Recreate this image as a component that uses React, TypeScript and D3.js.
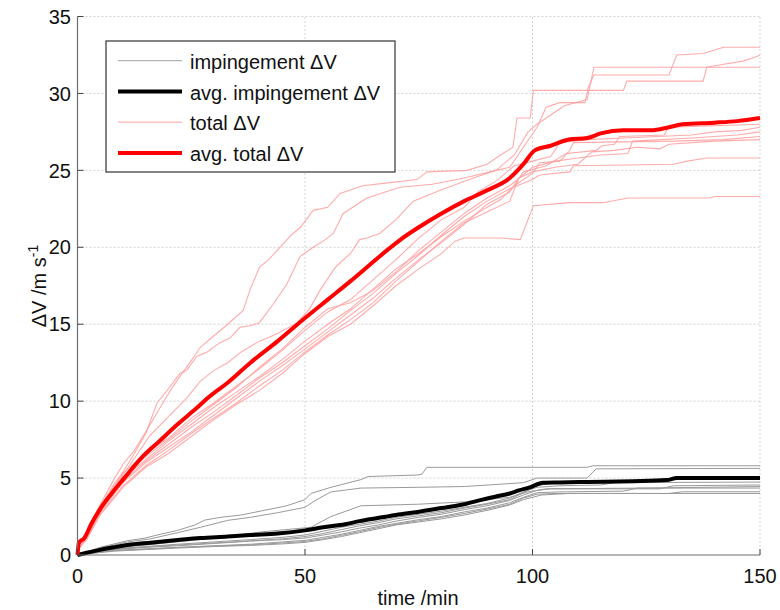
import React from "react";
import * as d3 from "d3";

type P = [number, number];

const X_TICKS = [0, 50, 100, 150];
const Y_TICKS = [0, 5, 10, 15, 20, 25, 30, 35];
const LEGEND_LABELS = ["impingement \u0394V", "avg. impingement \u0394V", "total \u0394V", "avg. total \u0394V"];

// total ΔV, individual runs
const totalA: P[] = [[0,0],[0.5,0.8],[2,1.5],[5,3.3],[8,4.9],[10,5.9],[12.5,6.8],[15.2,8.1],[17,9.0],[19.6,10.3],[22,11.4],[24.7,12.5],[27,13.5],[29.8,14.2],[33,15.0],[36.4,15.9],[38,17.3],[40,18.7],[42,19.2],[44.5,20.0],[47,20.8],[49,21.3],[51.8,22.4],[55,22.6],[57.7,23.5],[62.7,24.0],[68.7,24.2],[74.6,24.4],[76.8,24.9],[85.6,25.0],[90,25.4],[93,26.0],[95.7,26.5],[96.6,28.4],[99.5,28.4],[100.2,30.2],[112,30.2],[113.5,31.2],[130,31.2],[131.7,32.5],[137.5,32.6],[142,33.0],[150,33.0]];
const totalB: P[] = [[0,0],[0.5,0.7],[2,1.4],[5,3.1],[8,4.6],[10,5.4],[12.5,6.6],[15,7.9],[17.5,9.9],[20,10.8],[22.5,11.8],[24,12.0],[26.2,12.9],[28.5,13.2],[31.3,13.8],[33.5,14.1],[35.7,14.8],[38,14.9],[40,15.1],[43,16.3],[46,17.6],[48.9,19.4],[51.8,20.0],[54,20.4],[56.2,20.9],[58.4,22.2],[63.6,23.2],[70.9,23.9],[78,24.1],[85,24.5],[92,25.0],[95,25.2],[98,26.5],[101,27.8],[103,29.1],[106,29.4],[111.5,29.4],[112.2,30.2],[120,30.2],[120.7,30.8],[137.5,30.8],[138.3,31.7],[142,31.9],[146.3,32.1],[149.3,32.4],[150,32.5]];
const totalC: P[] = [[0,0],[0.5,0.7],[2,1.3],[5,3.0],[10,5.2],[13,6.5],[16,7.8],[20,9.0],[24,10.2],[27,11.3],[30,12.0],[33,12.5],[36,13.2],[40,13.9],[44,14.4],[48.3,15.1],[51,16.0],[53.3,17.2],[56.2,18.5],[57,18.8],[60,19.6],[62,20.5],[63.6,20.6],[66.4,20.9],[70,21.8],[73.8,23.0],[79.7,23.7],[87,24.5],[92,25.0],[96,26.0],[99,27.5],[101,28.0],[104,28.6],[107,29.2],[112,29.6],[113.5,31.7],[150,31.7]];
const totalD: P[] = [[0,0],[0.5,0.6],[2,1.3],[5,3.0],[10,5.0],[15,6.2],[20,7.4],[25,8.5],[30,9.6],[35,10.6],[40,11.6],[45,12.7],[50,13.9],[55,15.0],[60,16.0],[65,17.3],[70,18.6],[75,19.6],[80,20.7],[85,21.7],[90,22.6],[93,23.1],[96,24.0],[100,24.8],[101.6,25.5],[106,25.6],[107.6,26.1],[114,26.3],[115.3,26.6],[118,26.7],[119.2,27.2],[129,27.3],[129.8,27.8],[150,28.0]];
const totalE: P[] = [[0,0],[0.5,0.8],[2,1.4],[5,3.2],[10,5.3],[15,6.6],[20,7.6],[25,8.9],[30,9.9],[35,11.0],[40,12.1],[45,13.3],[50,14.6],[55,15.8],[60,16.6],[65,17.9],[70,19.2],[75,20.6],[80,21.8],[85,22.6],[88,23.6],[92,24.3],[96,25.3],[100,25.6],[104,25.9],[106,26.8],[112,27.0],[120,27.1],[135,27.3],[140,27.5],[146,27.6],[150,27.8]];
const totalF: P[] = [[0,0],[0.5,0.6],[2,1.2],[5,2.8],[10,4.7],[15,6.0],[20,7.0],[25,8.0],[30,9.1],[35,10.2],[40,11.3],[45,12.3],[50,13.4],[55,14.5],[60,15.6],[65,16.7],[70,18.0],[75,19.2],[80,20.3],[85,21.5],[90,22.8],[95,23.6],[98,24.9],[103,25.3],[108,26.2],[109,26.8],[131,26.9],[142,27.0],[150,27.2]];
const totalG: P[] = [[0,0],[0.5,0.5],[2,1.1],[5,2.7],[10,4.5],[15,5.8],[20,6.8],[25,7.9],[30,8.9],[35,9.9],[40,11.0],[45,12.0],[50,13.2],[55,14.3],[60,15.3],[65,16.4],[70,17.8],[75,19.1],[80,20.4],[85,21.6],[90,22.3],[95,23.0],[97,24.5],[100,24.9],[105,25.2],[110,25.4],[113,26.2],[118,26.3],[123,26.5],[128,26.4],[130,26.7],[140,26.9],[150,27.0]];
const totalH: P[] = [[0,0],[0.5,0.7],[2,1.3],[5,3.1],[10,5.1],[15,6.4],[20,7.5],[25,8.7],[30,9.8],[35,10.9],[40,12.2],[45,13.4],[50,14.8],[55,16.0],[60,16.4],[65,17.2],[70,18.4],[75,19.8],[80,21.0],[85,22.2],[90,23.2],[95,24.0],[100,25.2],[105,25.6],[110,25.8],[115,26.0],[121,26.1],[122,26.9],[135,27.1],[145,27.3],[150,27.5]];
const totalI: P[] = [[0,0],[0.5,0.6],[2,1.2],[5,2.9],[10,4.8],[15,6.1],[20,7.2],[25,8.3],[30,9.3],[35,10.4],[40,11.5],[45,12.5],[50,13.6],[55,14.7],[60,15.9],[65,17.0],[70,18.3],[75,19.5],[80,20.8],[85,22.0],[90,23.0],[95,23.8],[100,24.4],[101.6,24.7],[108.2,24.9],[109,25.3],[131,25.4],[134,25.6],[138.3,25.8],[150,25.8]];
const totalJ: P[] = [[0,0],[0.5,0.5],[2,1.0],[5,2.6],[10,4.4],[15,5.7],[20,6.6],[25,7.7],[30,8.8],[35,9.8],[40,10.7],[45,11.8],[50,13.1],[55,14.2],[60,15.0],[65,16.2],[70,17.5],[75,18.6],[80,19.6],[83,20.4],[85,20.6],[93,20.6],[97.3,20.5],[100.2,22.7],[108.2,22.9],[115.5,22.9],[121,23.2],[139,23.2],[140,23.3],[150,23.3]];

const avgTotal: P[] = [[0,0],[0.3,0.8],[1.5,1.1],[3,2.0],[5,3.0],[7.5,4.0],[10,4.9],[14,6.3],[18,7.4],[22,8.5],[26,9.5],[29,10.3],[33,11.2],[38,12.5],[44,13.9],[50,15.4],[55,16.6],[60,17.8],[64,18.8],[68,19.8],[71,20.5],[75,21.3],[80,22.2],[85,23.0],[90,23.7],[95,24.5],[98,25.4],[100.5,26.3],[104,26.6],[108,27.0],[112,27.1],[115,27.4],[120,27.6],[126,27.6],[130,27.8],[133,28.0],[140,28.1],[145,28.2],[150,28.4]];

// impingement ΔV, individual runs
const impG1: P[] = [[0,0],[5,0.5],[11,0.93],[14.8,1.1],[18.4,1.36],[22,1.6],[25.8,1.95],[28,2.27],[31.5,2.45],[36,2.6],[41,2.9],[46,3.2],[50,3.6],[51.3,4.0],[55.7,4.4],[62.3,4.9],[63.8,5.1],[74.8,5.2],[75.7,5.26],[76.8,5.7],[112,5.7],[113.3,5.8],[150,5.8]];
const impG2: P[] = [[0,0],[5,0.45],[11,0.85],[16,1.05],[22,1.45],[27,1.8],[33,2.25],[38,2.45],[44,2.75],[50,3.1],[52,3.5],[55.7,4.1],[62.3,4.35],[75,4.4],[85,4.45],[98,4.7],[101,5.0],[112,5.0],[114,5.6],[150,5.63]];
const impG3: P[] = [[0,0],[3,0.25],[10,0.5],[20,0.8],[30,1.1],[40.4,1.5],[51.3,1.8],[55.7,2.5],[62.3,3.2],[74.8,3.3],[85,3.45],[95,3.75],[99,4.1],[103,4.3],[125,4.35],[150,4.45]];
const impB1: P[] = [[0,0],[3,0.2],[8,0.4],[15,0.55],[22,0.7],[30,0.85],[38,1.0],[45,1.15],[50,1.3],[54,1.55],[58,1.8],[62,2.0],[66,2.2],[70,2.45],[75,2.65],[80,2.85],[85,3.1],[90,3.35],[95,3.7],[98,4.1],[101,4.4],[106,4.5],[115,4.55],[118,4.7],[150,4.74]];
const impB2: P[] = [[0,0],[3,0.15],[8,0.35],[15,0.5],[22,0.6],[30,0.75],[38,0.9],[45,1.0],[50,1.1],[54,1.3],[58,1.5],[62,1.75],[66,1.95],[70,2.2],[75,2.45],[80,2.65],[85,2.95],[90,3.2],[95,3.55],[98,3.9],[101,4.2],[104,4.3],[128,4.3],[131,4.5],[150,4.55]];
const impB3: P[] = [[0,0],[3,0.15],[8,0.3],[15,0.4],[22,0.5],[30,0.6],[38,0.7],[45,0.85],[50,0.95],[54,1.15],[58,1.35],[62,1.6],[66,1.85],[70,2.05],[75,2.3],[80,2.5],[85,2.8],[90,3.05],[95,3.4],[98,3.75],[101,4.05],[106,4.1],[120,4.15],[123,4.35],[150,4.35]];
const impB4: P[] = [[0,0],[3,0.1],[8,0.25],[15,0.35],[22,0.45],[30,0.55],[38,0.62],[45,0.72],[50,0.82],[54,1.0],[58,1.2],[62,1.45],[66,1.7],[70,1.95],[75,2.15],[80,2.35],[85,2.6],[90,2.9],[95,3.25],[98,3.6],[102,3.9],[108,4.0],[150,4.0]];
const impB5: P[] = [[0,0],[3,0.12],[8,0.28],[15,0.38],[22,0.48],[30,0.58],[38,0.66],[45,0.78],[50,0.88],[54,1.05],[58,1.28],[62,1.52],[66,1.78],[70,2.0],[75,2.22],[80,2.45],[85,2.7],[90,2.98],[95,3.3],[98,3.7],[101,3.95],[105,4.0],[130,4.0],[133,4.11],[150,4.11]];
const impB6: P[] = [[0,0],[3,0.18],[8,0.38],[15,0.52],[22,0.65],[30,0.78],[38,0.92],[45,1.05],[50,1.2],[54,1.4],[58,1.65],[62,1.9],[66,2.1],[70,2.35],[75,2.55],[80,2.75],[85,3.05],[90,3.3],[95,3.6],[99,4.2],[101,4.5],[104,4.65],[112,4.7],[125,4.75],[128,4.9],[150,4.93]];

const avgImp: P[] = [[0,0],[2,0.15],[4.4,0.3],[8,0.5],[11,0.65],[16,0.8],[22,0.97],[27,1.1],[33,1.2],[38,1.3],[44,1.4],[50,1.6],[54,1.8],[58.8,2.0],[62,2.2],[66,2.4],[70,2.6],[74.8,2.8],[80,3.05],[85,3.3],[89,3.6],[92,3.8],[95,4.0],[97,4.2],[99.4,4.4],[102.3,4.7],[106,4.72],[112,4.75],[122,4.8],[129.5,4.87],[131.7,5.0],[150,5.0]];

const totalRuns = [totalA, totalB, totalC, totalD, totalE, totalF, totalG, totalH, totalI, totalJ];
const impRuns = [impG1, impG2, impG3, impB1, impB2, impB3, impB4, impB5, impB6];

const FONT = "'Liberation Sans', Arial, Helvetica, sans-serif";

export default function App() {
  const W = 780, H = 610;
  const x = d3.scaleLinear().domain([0, 150]).range([77.5, 760]);
  const y = d3.scaleLinear().domain([0, 35]).range([555, 16.5]);
  const line = d3.line<P>().x((d) => x(d[0])).y((d) => y(d[1]));
  const smooth = d3.line<P>().x((d) => x(d[0])).y((d) => y(d[1])).curve(d3.curveMonotoneX);

  const [x0, x1] = x.range();
  const [y0, y1] = y.range();

  const legendX = 106, legendY = 41, legendW = 289, legendH = 131;
  const rowY = [60.7, 91.5, 122.2, 153];
  const legendStyles = [
    { stroke: "#b4b4b4", width: 1.2 },
    { stroke: "#000", width: 4 },
    { stroke: "#ffb3b3", width: 1.2 },
    { stroke: "#ff0000", width: 4 },
  ];

  return (
    <svg width={W} height={H} style={{ position: "absolute", left: 0, top: 0, background: "#fff" }} fontFamily={FONT}>
      <rect x={0} y={0} width={W} height={H} fill="#fff" />
      {/* grid */}
      {X_TICKS.filter((t) => t > 0).map((t) => (
        <line key={"gx" + t} x1={x(t)} x2={x(t)} y1={y0} y2={y1} stroke="#c8c8c8" strokeWidth={0.8} strokeDasharray="2,2" />
      ))}
      {Y_TICKS.filter((t) => t > 0).map((t) => (
        <line key={"gy" + t} x1={x0} x2={x1} y1={y(t)} y2={y(t)} stroke="#c8c8c8" strokeWidth={0.8} strokeDasharray="2,2" />
      ))}

      {/* individual runs */}
      {impRuns.map((r, i) => (
        <path key={"imp" + i} d={line(r) || ""} fill="none" stroke="#9a9a9a" strokeWidth={1} />
      ))}
      {totalRuns.map((r, i) => (
        <path key={"tot" + i} d={line(r) || ""} fill="none" stroke="#ff9c9c" strokeWidth={1.1} strokeOpacity={0.85} />
      ))}
      <path d={smooth(avgImp) || ""} fill="none" stroke="#000" strokeWidth={4} strokeLinejoin="round" />
      <path d={smooth(avgTotal) || ""} fill="none" stroke="#ff0000" strokeWidth={4} strokeLinejoin="round" />

      {/* axes */}
      <line x1={x0} x2={x0} y1={y1} y2={y0} stroke="#6e6e6e" strokeWidth={1.2} />
      <line x1={x0} x2={x1} y1={y0} y2={y0} stroke="#6e6e6e" strokeWidth={1.2} />
      {X_TICKS.map((t) => (
        <g key={"xt" + t}>
          <line x1={x(t)} x2={x(t)} y1={y0} y2={y0 - 6} stroke="#444" strokeWidth={1} />
          <text x={x(t)} y={583} textAnchor="middle" fontSize={20} fill="#111">{t}</text>
        </g>
      ))}
      {Y_TICKS.map((t) => (
        <g key={"yt" + t}>
          <line x1={x0} x2={x0 + 6} y1={y(t)} y2={y(t)} stroke="#444" strokeWidth={1} />
          <text x={71} y={y(t)} dy="0.36em" textAnchor="end" fontSize={20} fill="#111">{t}</text>
        </g>
      ))}
      <text x={418} y={605} textAnchor="middle" fontSize={20} fill="#111">time /min</text>
      <text transform="translate(46,286) rotate(-90)" textAnchor="middle" fontSize={20} fill="#111">
        {"\u0394V /m s"}
        <tspan fontSize={14} dy={-8}>-1</tspan>
      </text>

      {/* legend */}
      <rect x={legendX} y={legendY} width={legendW} height={legendH} fill="#fff" stroke="#333" strokeWidth={1.2} />
      {LEGEND_LABELS.map((lab, i) => (
        <g key={"lg" + i}>
          <line x1={118} x2={182} y1={rowY[i]} y2={rowY[i]} stroke={legendStyles[i].stroke} strokeWidth={legendStyles[i].width} />
          <text x={190} y={rowY[i] + 8} fontSize={20} fill="#111">{lab}</text>
        </g>
      ))}
    </svg>
  );
}
